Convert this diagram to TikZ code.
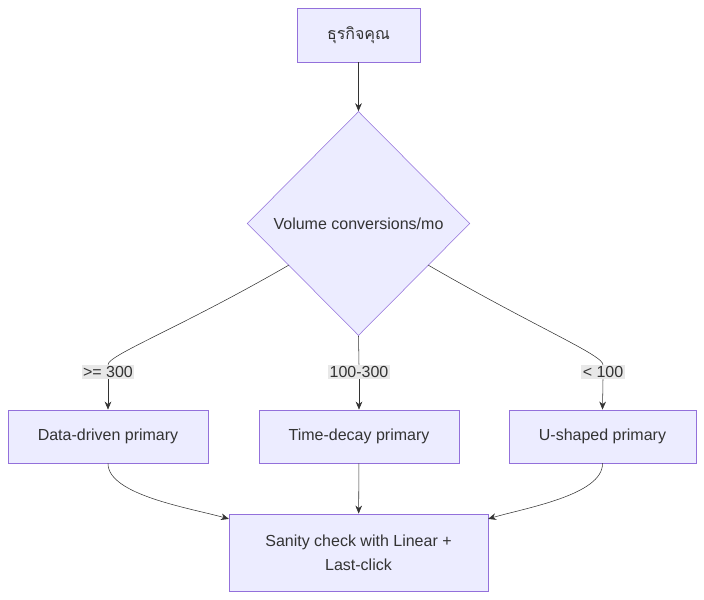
\documentclass[tikz,border=0pt]{standalone}
\usepackage{fontspec}
\setmainfont{Liberation Sans}
\newfontfamily\thaifont[Script=Thai]{Loma}
\usetikzlibrary{shapes.geometric,arrows.meta}
\definecolor{boxfill}{HTML}{ECECFF}
\definecolor{boxline}{HTML}{9370DB}
\definecolor{edge}{HTML}{333333}
\definecolor{lblbg}{HTML}{E8E8E8}

\begin{document}
\begin{tikzpicture}[x=0.75pt,y=-0.75pt,
  font=\fontsize{12}{18}\selectfont,
  box/.style={draw=boxline,fill=boxfill,rectangle,inner sep=0pt,text=edge},
  lbl/.style={fill=lblbg,inner sep=1pt,text=edge},
  link/.style={draw=edge,-{Stealth[length=6pt,width=5pt]}}]
\useasboundingbox (0,0) rectangle (704,600);

% Nodes
\node[box,minimum width=92.25pt,minimum height=40.5pt] (biz) at (358.5,35) {{\thaifont ธุรกิจคุณ}};
\node[draw=boxline,fill=boxfill,diamond,aspect=1,minimum width=167pt,minimum height=168pt,inner sep=0pt,text=edge] (vol) at (358.5,223.5) {Volume conversions/mo};
\node[box,minimum width=150pt,minimum height=40pt] (dd) at (108,436.5) {Data-driven primary};
\node[box,minimum width=150pt,minimum height=40pt] (td) at (359,436.5) {Time-decay primary};
\node[box,minimum width=140pt,minimum height=40pt] (us) at (602.5,436.5) {U-shaped primary};
\node[box,minimum width=194pt,minimum height=58pt,align=center] (sc) at (358.5,552.5) {Sanity check with Linear +\\Last-click};

% Edge labels
\node[lbl] (l1) at (108,372) {>= 300};
\node[lbl] (l2) at (359,372) {100-300};
\node[lbl] (l3) at (603,372) {< 100};

% Connectors
\draw[link] (biz) -- (vol);
\coordinate (vl) at (289,265);
\coordinate (vr) at (428,265);
\draw[draw=edge] (vl) .. controls (180,328) and (108,355) .. (l1.north);
\draw[link] (l1.south) -- (dd.north);
\draw[draw=edge] (vol.south) -- (l2.north);
\draw[link] (l2.south) -- (td.north);
\draw[draw=edge] (vr) .. controls (537,328) and (603,355) .. (l3.north);
\draw[link] (l3.south) -- (us.north);
\draw[link] (dd.south) .. controls (108,495) and (190,508) .. ([yshift=-4pt]sc.north west);
\draw[link] (td) -- (sc);
\draw[link] (us.south) .. controls (603,495) and (525,508) .. ([yshift=-4pt]sc.north east);
\end{tikzpicture}
\end{document}
